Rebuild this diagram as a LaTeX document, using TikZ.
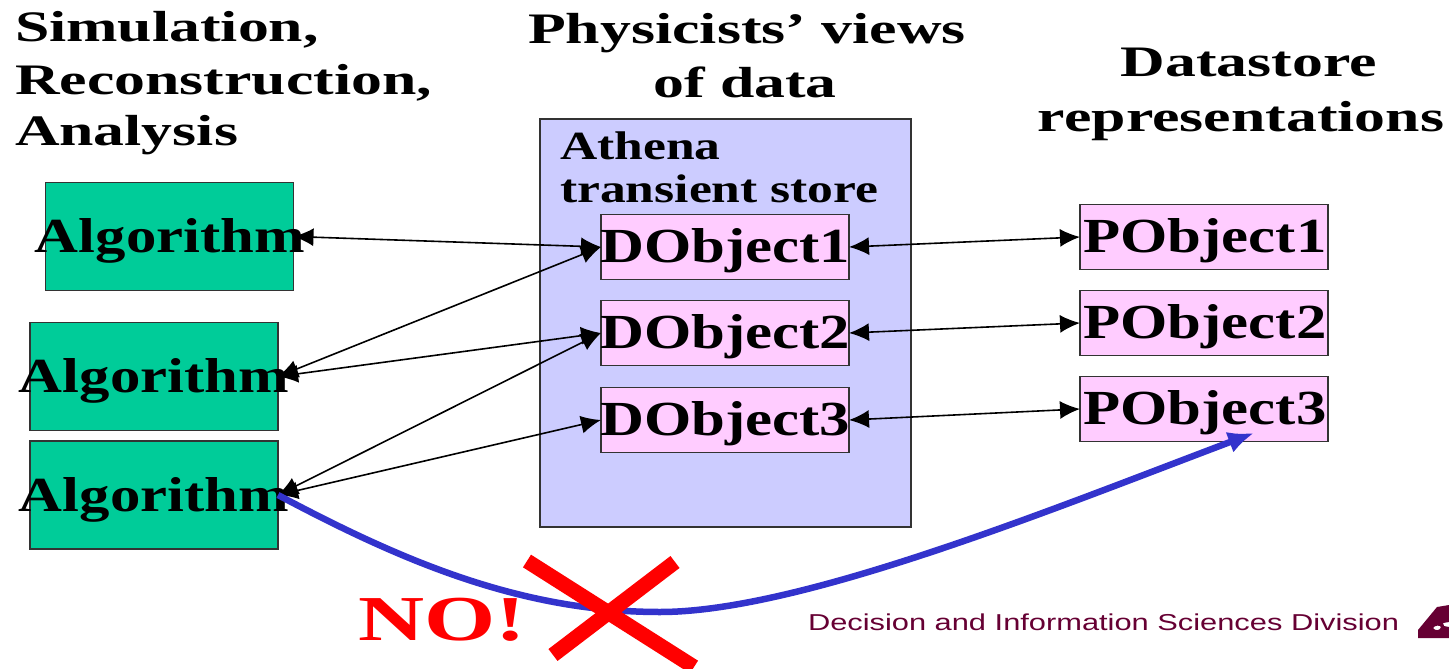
\documentclass[tikz,border=0pt]{standalone}
\usepackage{fontspec}
\setmainfont{Liberation Serif}
\newfontfamily\headserif[FakeStretch=1.42,BoldFont={Liberation Serif Bold}]{Liberation Serif}
\newfontfamily\storeserif[FakeStretch=1.29,BoldFont={Liberation Serif Bold}]{Liberation Serif}
\newfontfamily\wideserif[FakeStretch=1.24,BoldFont={Liberation Serif Bold}]{Liberation Serif}
\newfontfamily\noserif[FakeStretch=1.43,BoldFont={Liberation Serif Bold}]{Liberation Serif}
\newfontfamily\widesans[FakeStretch=1.34]{Liberation Sans}
\usetikzlibrary{arrows.meta}
\definecolor{algo}{HTML}{00CC99}
\definecolor{store}{HTML}{CCCCFF}
\definecolor{pinkbox}{HTML}{FFCCFF}
\definecolor{deepblue}{HTML}{3333CC}
\definecolor{argonne}{HTML}{660033}
\tikzset{
  every node/.style={inner sep=0pt,outer sep=0pt},
  headtext/.style={font=\headserif\bfseries\fontsize{43.5}{52}\selectfont,align=center,anchor=base},
  storetext/.style={font=\storeserif\bfseries\fontsize{40}{46}\selectfont,anchor=base west},
  labeltext/.style={font=\wideserif\bfseries\fontsize{49}{49}\selectfont,anchor=center},
  algobox/.style={draw=black!80,line width=1.4pt,fill=algo,minimum width=248pt,minimum height=108pt},
  databox/.style={draw=black!80,line width=1.4pt,fill=pinkbox,minimum width=248pt,minimum height=64.5pt},
  link/.style={black,line width=1.6pt,{Latex[length=20pt,width=18pt]}-{Latex[length=20pt,width=18pt]}},
}
\begin{document}
\begin{tikzpicture}[x=1pt,y=-1pt]
\useasboundingbox (0,0) rectangle (1449,669);
\clip (0,0) rectangle (1449,669);
% store
\node[draw=black!80,line width=1.4pt,fill=store,minimum width=371pt,minimum height=408pt] (store) at (725.5,323) {};
% headings
\node[headtext,anchor=base west] (h1a) at (15,42) {Simulation,};
\node[headtext,anchor=base west] (h1b) at (15,95) {Reconstruction,};
\node[headtext,anchor=base west] (h1c) at (15,145) {Analysis};
\node[headtext] (h2a) at (747,44) {Physicists’ views};
\node[headtext] (h2b) at (745,98) {of data};
\node[headtext] (h3a) at (1249,77) {Datastore};
\node[headtext] (h3b) at (1241,131) {representations};
\node[storetext] (s1) at (560,159) {Athena};
\node[storetext] (s2) at (560,202) {transient store};
% boxes
\node[algobox] (a1) at (169.5,236.5) {};
\node[algobox] (a2) at (154,376.5) {};
\node[algobox] (a3) at (154,495) {};
\node[databox] (d1) at (725,247) {};
\node[databox] (d2) at (725,333) {};
\node[databox] (d3) at (725,420) {};
\node[databox] (p1) at (1204,237) {};
\node[databox] (p2) at (1204,323) {};
\node[databox] (p3) at (1204,409) {};
% connectors
\draw[link] (a1.east) -- (d1.west);
\draw[link] (a2.east) -- (d1.west);
\draw[link] (a2.east) -- (d2.west);
\draw[link] (a3.east) -- (d2.west);
\draw[link] (a3.east) -- (d3.west);
\draw[link] (d1.east) -- (p1.west);
\draw[link] (d2.east) -- (p2.west);
\draw[link] (d3.east) -- (p3.west);
% box labels
\node[labeltext] (ta1) at (170,241) {Algorithm};
\node[labeltext] (ta2) at (154,381) {Algorithm};
\node[labeltext] (ta3) at (154,500) {Algorithm};
\node[labeltext] (td1) at (725,251) {DObject1};
\node[labeltext] (td2) at (725,337) {DObject2};
\node[labeltext] (td3) at (725,424) {DObject3};
\node[labeltext] (tp1) at (1205,241) {PObject1};
\node[labeltext] (tp2) at (1205,327) {PObject2};
\node[labeltext] (tp3) at (1205,413) {PObject3};
% forbidden access
\coordinate (pin) at (1254,433);
\draw[deepblue,line width=6.5pt,-{Latex[length=26pt,width=22pt]}] (a3.east)
  .. controls (400,560) and (520,612) .. (660,612)
  .. controls (800,612) and (1050,510) .. (pin);
\draw[red,line width=15pt] (527,561) -- (694,667);
\draw[red,line width=15pt] (675,562) -- (553,655);
\node[font=\noserif\bfseries\fontsize{64}{64}\selectfont,text=red,anchor=base west] (no) at (358,640) {NO!};
\node[font=\widesans\fontsize{23}{23}\selectfont,text=argonne,anchor=base west] (foot) at (808,630) {Decision and Information Sciences Division};
% logo fragment
\fill[argonne,even odd rule] (1418,638) -- (1418,630) -- (1437,607) -- (1449,605) -- (1449,638) -- cycle
  (1433,628) .. controls (1435,625) and (1440,625) .. (1441,627) .. controls (1440,631) and (1435,631) .. (1433,628) -- cycle
  (1443,623) -- (1449,622) -- (1449,627) -- (1444,626) -- cycle;
\end{tikzpicture}
\end{document}
